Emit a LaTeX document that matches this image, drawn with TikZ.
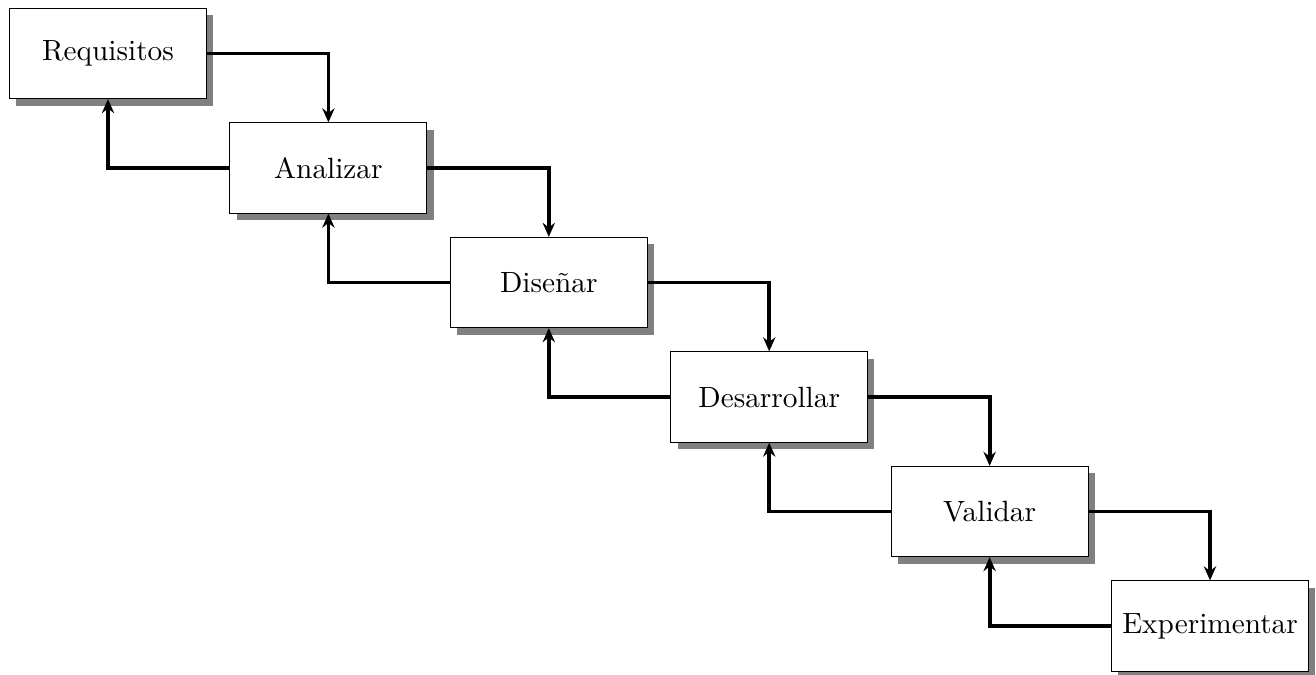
\documentclass[tikz,border=0pt]{standalone}
\usetikzlibrary{shadows,arrows.meta}
\begin{document}
\begin{tikzpicture}[x=0.3414pt,y=-0.3414pt,
  box/.style={draw, line width=0.35pt, fill=white, minimum width=67.2pt, minimum height=30.8pt,
    inner sep=0pt, font=\normalsize,
    drop shadow={shadow xshift=2.3pt, shadow yshift=-2.4pt, fill=black!50, opacity=1}},
  conn/.style={line width=1.3pt, -{Stealth[length=4.8pt,width=4.2pt,inset=1.6pt]}}]
\useasboundingbox (0,0) rectangle (1316,675);
\node[box] (r) at (108,53.5) {Requisitos};
\node[box] (a) at (328.4,168) {Analizar};
\node[box] (d) at (548.8,282.5) {Diseñar};
\node[box] (de) at (769.2,397) {Desarrollar};
\node[box] (v) at (989.6,511.5) {Validar};
\node[box] (e) at (1210,626) {Experimentar};
\foreach \p/\n in {r/a,a/d,d/de,de/v,v/e}{
  \draw[conn] (\p.east) -| (\n.north);
  \draw[conn] (\n.west) -| (\p.south);
}
\end{tikzpicture}
\end{document}
